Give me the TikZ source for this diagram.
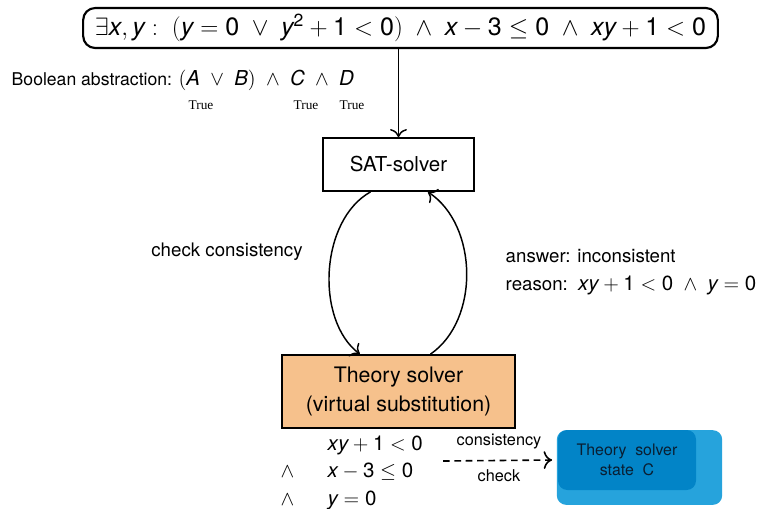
\RequirePackage{fix-cm}
\documentclass[tikz,border=0pt]{standalone}
\usepackage{mathspec}
\setmainfont{TeX Gyre Heros}
\setmathsfont(Digits,Latin){TeX Gyre Heros}
\newfontfamily\truefont{Liberation Serif}
\usetikzlibrary{arrows.meta}
\newcommand\mth[1]{{\fontsize{15.4}{17}\selectfont$#1$}}

\tikzset{every picture/.style={line width=1.1pt}}
\tikzset{
  solverbox/.style={draw, line width=1.1pt, inner sep=0pt, align=center},
  txt/.style={inner sep=0.75pt, font=\fontsize{13.2}{16}\selectfont},
  lbl/.style={inner sep=0.75pt, font=\fontsize{14}{17}\selectfont},
  truelbl/.style={inner sep=0.75pt, font=\truefont\fontsize{10}{12}\selectfont},
  tip/.style={-{To[scale=1.5]}},
}

\begin{document}
\begin{tikzpicture}[x=0.75pt,y=0.75pt,yscale=-1,xscale=1]
\useasboundingbox (0,0) rectangle (759,508);
%Rounded Rect [id:formula]
\node [solverbox, rounded corners=9pt, line width=1.6pt, minimum width=476pt, minimum height=30pt, font=\fontsize{18.8}{20}\selectfont] (formula) at (400.5,28) {$\exists x,y:\ (y=0\ \vee\ y^2+1<0)\ \wedge\ x-3\leq 0\ \wedge\ xy+1<0$};
%Shape: Rectangle [id:sat]
\node [solverbox, minimum width=113pt, minimum height=40pt, font=\fontsize{15.4}{18}\selectfont] (sat) at (398.5,164.5) {SAT-solver};
%Shape: Rectangle [id:theory]
\node [solverbox, fill={rgb, 255:red, 246; green, 193; blue, 140 }, minimum width=175pt, minimum height=55pt, font=\fontsize{16}{22}\selectfont] (theory) at (398.5,391.5) {Theory solver\\(virtual substitution)};
%Rounded Rect [id:stateback]
\node [rounded corners=7pt, fill={rgb, 255:red, 38; green, 163; blue, 220 }, minimum width=124pt, minimum height=56pt, inner sep=0pt] (stateback) at (639.5,467.5) {};
%Rounded Rect [id:state]
\node [rounded corners=7pt, fill={rgb, 255:red, 2; green, 132; blue, 199 }, minimum width=103.5pt, minimum height=45pt, inner sep=0pt, align=center, font=\fontsize{11.9}{14.5}\selectfont, text={rgb, 255:red, 10; green, 30; blue, 50 }] (state) at (627,460) {Theory\ \ solver\\state\ \ C};

%Straight Lines [id:down]
\draw [tip] (sat.north |- formula.south) -- (sat.north) ;
%Curve Lines [id:check]
\draw [tip] ([xshift=-21pt]sat.south) .. controls (320,220) and (315,320) .. ([xshift=-29pt]theory.north) ;
%Curve Lines [id:answer]
\draw [tip] ([xshift=24pt]theory.north) .. controls (480,320) and (478,225) .. ([xshift=22pt]sat.south) ;
%Straight Lines [id:dash]
\coordinate (chk) at (443,461);
\draw [dash pattern=on 5pt off 3.5pt, line width=1.2pt, tip] (chk) -- ([xshift=-3pt]stateback.west |- state.west) ;

% Text Node
\node [txt, anchor=base west] (abstr) at (10,85) {Boolean abstraction: \mth{(A\ \vee\ B)\ \wedge\ C\ \wedge\ D}};
% Text Node
\node [truelbl] (ta) at (201,105) {True};
% Text Node
\node [truelbl] (tc) at (306,105) {True};
% Text Node
\node [truelbl] (td) at (352,105) {True};
% Text Node
\node [lbl] (chklbl) at (227,252) {check consistency};
% Text Node
\node [lbl, anchor=west] (ans) at (504,256) {answer: inconsistent};
% Text Node
\node [lbl, anchor=base west] (reason) at (504,290) {reason:\ \ \mth{xy+1<0\ \wedge\ y=0}};
% Text Node
\node [txt, anchor=base west] (c1) at (326,450) {\mth{xy+1<0}};
% Text Node
\node [txt, anchor=base west] (a2) at (279,477) {\mth{\wedge}};
% Text Node
\node [txt, anchor=base west] (c2) at (326,477) {\mth{x-3\leq 0}};
% Text Node
\node [txt, anchor=base west] (a3) at (279,505) {\mth{\wedge}};
% Text Node
\node [txt, anchor=base west] (c3) at (326,505) {\mth{y=0}};
% Text Node
\node [inner sep=0.75pt, font=\fontsize{12.2}{14}\selectfont] (cons) at (499,442) {consistency};
% Text Node
\node [inner sep=0.75pt, font=\fontsize{12.2}{14}\selectfont] (chk2) at (499,476) {check};
\end{tikzpicture}
\end{document}
